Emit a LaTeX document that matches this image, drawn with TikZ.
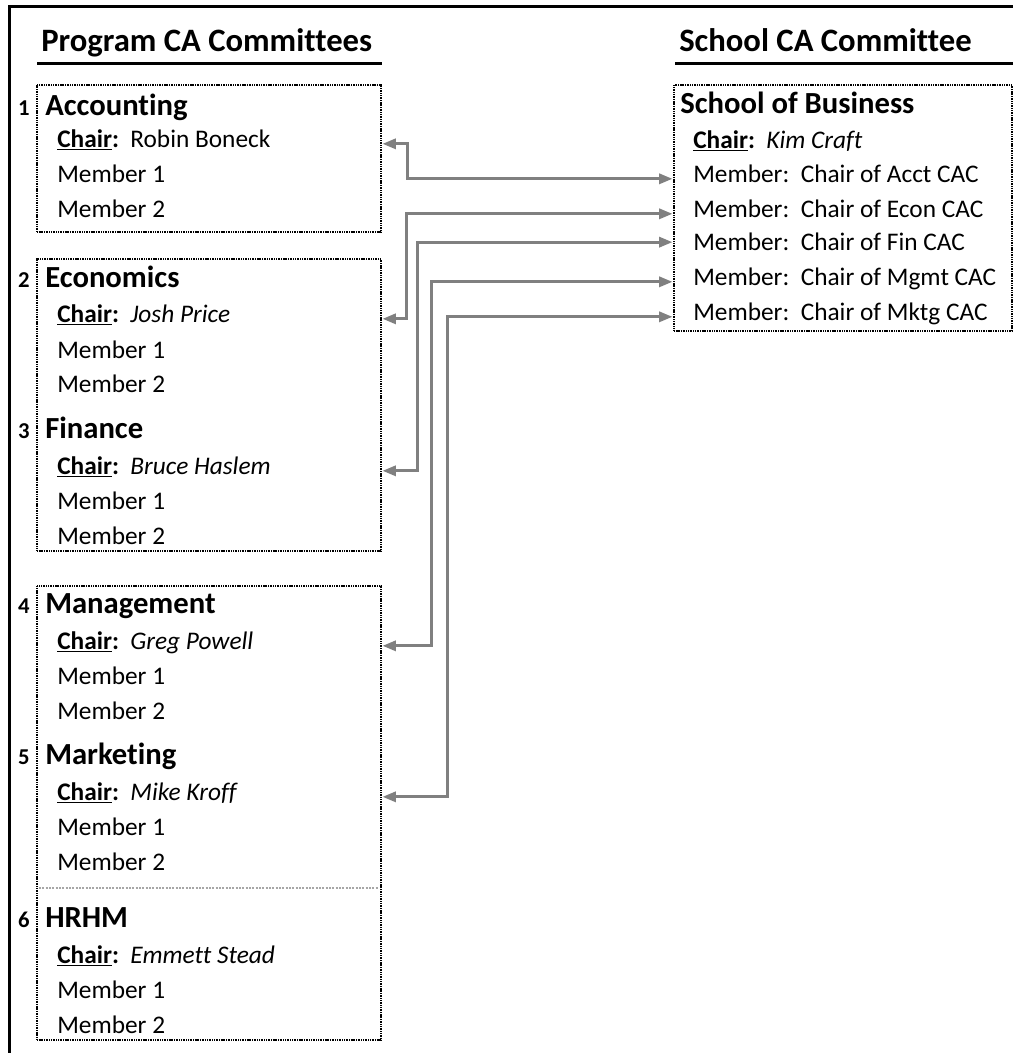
\documentclass[tikz,border=0pt]{standalone}
\usepackage{fontspec}
\setmainfont{Carlito}[Ligatures=NoCommon]
\usetikzlibrary{arrows.meta,fit}

\newcommand{\chairtag}{\textbf{\underline{Chair}:}\hspace{0.45em}}

\begin{document}
\begin{tikzpicture}[x=0.75pt, y=-0.75pt,
  head/.style={anchor=base west, inner sep=0, font=\fontsize{24.5}{28}\selectfont\bfseries},
  title/.style={anchor=base west, inner sep=0, font=\fontsize{23}{27}\selectfont\bfseries},
  num/.style={anchor=base east, inner sep=0, font=\fontsize{17}{19}\selectfont\bfseries},
  row/.style={anchor=base west, inner sep=0, font=\fontsize{19}{22}\selectfont},
  cabox/.style={draw=black, line width=2.2pt, dash pattern=on 0.8pt off 0.5pt, inner sep=0},
  sepline/.style={draw=black!35, line width=1.2pt, dash pattern=on 1.5pt off 1pt},
  link/.style={draw=black!50, line width=2.2pt},
  >={Triangle[length=10pt,width=7.5pt]}]

  \useasboundingbox (0,0) rectangle (1018,1053);

  % frame and headings
  \draw[line width=2.25pt] (9,1053) -- (9,6) -- (1013,6);
  \node[head] (proghead) at (41,51) {Program CA Committees};
  \node[head] (schoolhead) at (679,51) {School CA Committee};
  \draw[line width=2.25pt] (37,63) -- (382,63);
  \draw[line width=2.25pt] (675,63) -- (1013,63);

  % boxes
  \node[cabox, fit={(37,85) (381,232)}] (acctbox) {};
  \node[cabox, fit={(37,259) (381,551)}] (econbox) {};
  \node[cabox, fit={(37,586) (381,1040)}] (mgmtbox) {};
  \node[cabox, fit={(674,85) (1012,331)}] (sobbox) {};
  \draw[sepline] (39,888) -- (379,888);

  % program committees
  \node[num] (acctnum) at (30,115) {1};
  \node[title] (acct) at (45,115) {Accounting};
  \node[row] (acctchair) at (57,147) {\chairtag Robin Boneck};
  \node[row] (acctmone) at (57,182) {Member 1};
  \node[row] (acctmtwo) at (57,217) {Member 2};

  \node[num] (econnum) at (30,287) {2};
  \node[title] (econ) at (45,287) {Economics};
  \node[row] (econchair) at (57,322) {\chairtag\textit{Josh Price}};
  \node[row] (econmone) at (57,358) {Member 1};
  \node[row] (econmtwo) at (57,392) {Member 2};

  \node[num] (finnum) at (30,438) {3};
  \node[title] (fin) at (45,438) {Finance};
  \node[row] (finchair) at (57,474) {\chairtag\textit{Bruce Haslem}};
  \node[row] (finmone) at (57,509) {Member 1};
  \node[row] (finmtwo) at (57,544) {Member 2};

  \node[num] (mgmtnum) at (30,613) {4};
  \node[title] (mgmt) at (45,613) {Management};
  \node[row] (mgmtchair) at (57,649) {\chairtag\textit{Greg Powell}};
  \node[row] (mgmtmone) at (57,684) {Member 1};
  \node[row] (mgmtmtwo) at (57,719) {Member 2};

  \node[num] (mktgnum) at (30,764) {5};
  \node[title] (mktg) at (45,764) {Marketing};
  \node[row] (mktgchair) at (57,800) {\chairtag\textit{Mike Kroff}};
  \node[row] (mktgmone) at (57,835) {Member 1};
  \node[row] (mktgmtwo) at (57,870) {Member 2};

  \node[num] (hrhmnum) at (30,927) {6};
  \node[title] (hrhm) at (45,927) {HRHM};
  \node[row] (hrhmchair) at (57,963) {\chairtag\textit{Emmett Stead}};
  \node[row] (hrhmmone) at (57,998) {Member 1};
  \node[row] (hrhmmtwo) at (57,1033) {Member 2};

  % school committee
  \node[title] (sob) at (680,113) {School of Business};
  \node[row] (sobchair) at (693,148) {\chairtag\textit{Kim Craft}};
  \node[row] (sobacct) at (693,182) {Member:\ \ Chair of Acct CAC};
  \node[row] (sobecon) at (693,217) {Member:\ \ Chair of Econ CAC};
  \node[row] (sobfin) at (693,250) {Member:\ \ Chair of Fin CAC};
  \node[row] (sobmgmt) at (693,285) {Member:\ \ Chair of Mgmt CAC};
  \node[row] (sobmktg) at (693,320) {Member:\ \ Chair of Mktg CAC};

  % chair links
  \draw[link, <->] (acctbox.east |- acctchair.mid) -- ++(25,0) |- (sobbox.west |- sobacct.mid);
  \draw[link, <->] (econbox.east |- econchair.mid) -- ++(24,0) |- (sobbox.west |- sobecon.mid);
  \draw[link, <->] (econbox.east |- finchair.mid) -- ++(35,0) |- ([yshift=3.5pt]sobbox.west |- sobfin.mid);
  \draw[link, <->] (mgmtbox.east |- mgmtchair.mid) -- ++(49,0) |- (sobbox.west |- sobmgmt.mid);
  \draw[link, <->] (mgmtbox.east |- mktgchair.mid) -- ++(65,0) |- (sobbox.west |- sobmktg.mid);

\end{tikzpicture}
\end{document}
